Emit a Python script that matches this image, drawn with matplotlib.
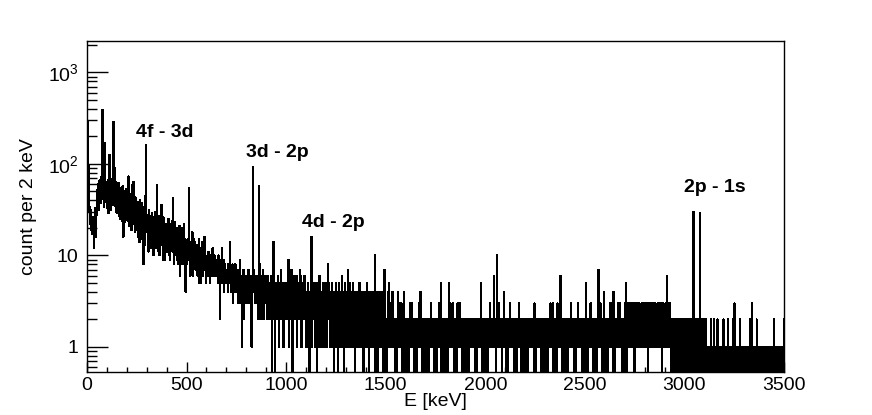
import numpy as np
import matplotlib
matplotlib.use("Agg")
import matplotlib.pyplot as plt
from matplotlib.ticker import FixedLocator, FixedFormatter, MultipleLocator

plt.rcParams['font.family'] = ['Liberation Sans', 'DejaVu Sans']
plt.rcParams['mathtext.fontset'] = 'custom'
plt.rcParams['mathtext.rm'] = 'Liberation Sans'

# ---------------- data ----------------
bin_width = 2  # keV
# counts per 2 keV bin, 0 - 1000 keV (25 bins = 50 keV per row)
low_counts = [
    1150, 290, 210, 95, 48, 30, 34, 22, 28, 19, 31, 24, 17, 22, 21, 26, 18, 12, 16, 27, 33, 25, 16, 30, 41,
    28, 52, 35, 61, 44, 31, 66, 48, 37, 72, 45, 62, 110, 390, 95, 41, 57, 34, 68, 49, 170, 64, 38, 57, 33,
    58, 34, 66, 29, 48, 71, 126, 42, 55, 31, 64, 47, 36, 68, 40, 82, 290, 88, 51, 35, 91, 56, 30, 63, 37,
    48, 29, 55, 36, 62, 27, 44, 33, 55, 25, 51, 31, 46, 24, 57, 34, 16, 45, 28, 50, 23, 41, 53, 26, 38,
    41, 24, 45, 28, 73, 39, 21, 44, 33, 26, 47, 19, 37, 29, 59, 25, 64, 42, 22, 36, 18, 43, 30, 23, 38,
    33, 19, 38, 16, 29, 35, 14, 27, 40, 18, 31, 15, 26, 37, 17, 30, 8, 24, 34, 13, 28, 45, 162, 38, 18,
    22, 28, 14, 25, 11, 31, 16, 24, 19, 12, 27, 17, 13, 29, 21, 15, 10, 26, 20, 14, 30, 12, 19, 24, 16,
    59, 23, 14, 21, 11, 27, 16, 10, 20, 25, 13, 19, 36, 15, 24, 9, 18, 26, 12, 21, 14, 9, 22, 13, 19,
    18, 11, 21, 14, 25, 10, 17, 13, 9, 22, 15, 12, 19, 24, 11, 42, 16, 12, 8, 19, 23, 11, 15, 10, 20,
    15, 9, 19, 12, 8, 17, 11, 21, 6, 14, 10, 16, 20, 11, 8, 17, 13, 9, 22, 9, 15, 12, 4, 14, 10,
    13, 8, 15, 9, 12, 17, 55, 11, 9, 6, 14, 10, 7, 13, 18, 9, 6, 12, 15, 8, 10, 14, 7, 12, 9,
    10, 13, 6, 11, 12, 5, 15, 8, 10, 7, 12, 5, 9, 14, 8, 6, 11, 7, 13, 9, 16, 7, 10, 8, 5,
    9, 7, 10, 8, 6, 11, 8, 9, 7, 5, 10, 8, 9, 6, 8, 12, 7, 9, 8, 6, 10, 7, 8, 9, 6,
    7, 9, 6, 8, 5, 10, 7, 6, 8, 2, 7, 9, 6, 12, 8, 5, 7, 6, 9, 4, 7, 8, 5, 6, 7,
    6, 5, 7, 8, 4, 6, 7, 5, 9, 14, 6, 4, 7, 5, 6, 8, 3, 6, 5, 7, 4, 6, 8, 5, 6,
    5, 6, 4, 7, 5, 3, 6, 5, 4, 9, 6, 5, 3, 1, 5, 6, 4, 7, 5, 2, 6, 4, 5, 3, 6,
    5, 4, 6, 3, 5, 7, 4, 5, 3, 6, 4, 5, 2, 1, 6, 4, 9, 92, 7, 5, 4, 3, 6, 4, 5,
    4, 5, 3, 6, 4, 2, 5, 57, 8, 4, 3, 5, 6, 2, 4, 5, 3, 7, 4, 2, 5, 3, 4, 6, 3,
    4, 3, 5, 2, 6, 4, 3, 5, 4, 2, 3, 6, 4, 5, 0, 3, 4, 2, 14, 4, 3, 5, 0, 3, 4,
    3, 5, 2, 4, 6, 3, 1, 4, 5, 3, 2, 4, 7, 3, 4, 2, 5, 3, 1, 4, 3, 5, 2, 4, 3,
]

# counts per 2 keV bin, 1000 - 3500 keV, one digit per bin (50 bins = 100 keV per row)
high_rows = [
    "3524361432" "5427305132" "6432536124" "5433726413" "5243526431",
    "3241532403" "4253162435" "2314253041" "3526231432" "4135224315",
    "2314203524" "1342531230" "4213524132" "0352413226" "3142302531",
    "2132403125" "3112421352" "2403213142" "3121524132" "1423021342",
    "2130421302" "3412123141" "2301324120" "3421131242" "1302413021",
    "1202214102" "3121213411" "2120221022" "1412131213" "2102124012",
    "1202212101" "3121213121" "1202112021" "2113121412" "1202120120",
    "2102121201" "1213121121" "2102012120" "2121311212" "0121202102",
    "1201202120" "2131121213" "1022102120" "3333123211" "2102201210",
    "2120112012" "1121211212" "1210221012" "1212112111" "2021201210",
    "1202121021" "2311212112" "2102120120" "2121312112" "1201221022",
    "2102120121" "1231211212" "1202102120" "2112311212" "0212120102",
    "1210212012" "2111212121" "1203121012" "2121112121" "0212011202",
    "2120212012" "1213121213" "0212021202" "1312121131" "2120212012",
    "1202120212" "2112131211" "2120120212" "1213121211" "2120212012",
    "2012120212" "1212312112" "2021202120" "1231212113" "2102120212",
    "1220212012" "2131211321" "0212202122" "1213122311" "2120212021",
    "2312031231" "2123132121" "3213023122" "1332313212" "1231322131",
    "2133231202" "3122313213" "1232133221" "2131322123" "1320213122",
    "2132312122" "3121320212" "1021201201" "2102012120" "1201021012",
    "2101201210" "1202102101" "2012102120" "0121012010" "1201021012",
    "1010210101" "0110102011" "1010210100" "1102010110" "0101101020",
    "1010110102" "0110101010" "1201010110" "0101101012" "1010011010",
    "0110101101" "0101201010" "1101010110" "0201101011" "1010110101",
    "1011010110" "0101101010" "1101021011" "0110101010" "1101011012",
]

# isolated lines above the continuum (energy keV, counts)
spike_E = [1010, 1124, 1126, 1210, 1310, 1406, 1446, 1492, 1516, 1776, 1818, 1976,
           2044, 2058, 2094, 2376, 2506, 2568, 2596, 2642, 2706, 2912, 2928,
           3042, 3044, 3046, 3076, 3078, 3250, 3338]
spike_counts = [9, 5, 16, 8, 7, 5, 10, 7, 5, 5, 5, 5,
                6, 10, 4, 6, 5, 7, 4, 4, 5, 6, 3,
                12, 30, 3, 4, 29, 3, 3]

labels = ["4f - 3d", "3d - 2p", "4d - 2p", "2p - 1s"]
label_E = [246, 799, 1080, 2999]
label_y = [199, 120, 20.6, 49.6]

# ---------------- build histogram ----------------
counts = np.array(low_counts + [int(c) for row in high_rows for c in row], dtype=float)
for e, c in zip(spike_E, spike_counts):
    idx = int(e // bin_width)
    if idx < len(counts):
        counts[idx] = c
edges = np.arange(len(counts) + 1) * bin_width
plot_vals = np.where(counts > 0, counts, 1e-3)

# ---------------- figure ----------------
fig = plt.figure(figsize=(8.72, 4.15), dpi=100)
ax = fig.add_axes([87 / 872, 1 - 371.7 / 415, (784 - 87) / 872, (371.7 - 40.7) / 415])
ax.stairs(plot_vals, edges, baseline=None, color='black', lw=0.72, antialiased=False)

ax.set_yscale('log')
ax.set_xlim(0, 3500)
ax.set_ylim(0.537, 2218)

ax.xaxis.set_major_locator(MultipleLocator(500))
ax.xaxis.set_minor_locator(MultipleLocator(100))
ax.tick_params(axis='x', which='major', direction='in', length=7.2, width=1.0,
               labelsize=14, pad=4, top=False)
ax.tick_params(axis='x', which='minor', direction='in', length=3.6, width=1.0, top=False)

yt = [1, 10, 100, 1000]
ax.yaxis.set_major_locator(FixedLocator(yt))
ax.yaxis.set_major_formatter(FixedFormatter(["1", "10", r"$\mathregular{10^{2}}$", r"$\mathregular{10^{3}}$"]))
minors = [m * 10 ** d for d in range(-1, 4) for m in range(2, 10)]
ax.yaxis.set_minor_locator(FixedLocator(minors))
ax.yaxis.set_minor_formatter(FixedFormatter([""] * len(minors)))
ax.tick_params(axis='y', which='major', direction='in', length=15, width=1.0,
               labelsize=14, pad=6, right=False)
ax.tick_params(axis='y', which='minor', direction='in', length=7.5, width=1.0, right=False)

for s in ax.spines.values():
    s.set_linewidth(1.0)

ax.set_xlabel("E [keV]", fontsize=14, labelpad=-1)
ax.set_ylabel("count per 2 keV", fontsize=14, labelpad=8)

for t, xe, yv in zip(labels, label_E, label_y):
    ax.text(xe, yv, t, fontsize=14, fontweight='bold', ha='left', va='baseline')

fig.savefig("out.png", dpi=100)
